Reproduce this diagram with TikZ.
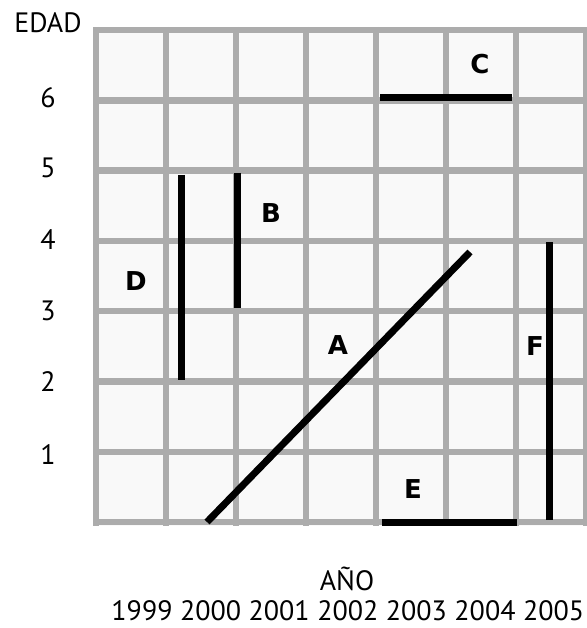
\documentclass[tikz,border=0pt]{standalone}
\usepackage{fontspec}
\setmainfont{PT Sans}
\newfontfamily\heavyfont{DejaVu Sans}
\begin{document}
\begin{tikzpicture}[x=1pt,y=-1pt,
  gridline/.style={draw=gray!65, line width=6.5pt},
  seg/.style={draw=black, line width=7pt},
  lbl/.style={font=\heavyfont\fontsize{26}{26}\selectfont\bfseries, inner sep=0pt},
  axl/.style={font=\fontsize{28}{28}\selectfont, inner sep=0pt}]
\useasboundingbox (0,0) rectangle (586,628);
\fill[gray!5] (93,27) rectangle (586,526);
\foreach \i in {0,...,7} \draw[gridline] (96+70*\i,27) -- (96+70*\i,526);
\foreach \j in {0,...,7} \draw[gridline] (93,30+70.3*\j) -- (589,30+70.3*\j);
% axis labels
\node[axl] (edad) at (48,23) {EDAD};
\node[axl] (y6) at (48,98) {6};
\node[axl] (y5) at (48,168) {5};
\node[axl] (y4) at (48,240) {4};
\node[axl] (y3) at (48,311) {3};
\node[axl] (y2) at (48,382) {2};
\node[axl] (y1) at (48,455) {1};
\node[axl] (ano) at (347,579) {AÑO};
\foreach \yr [count=\k from 0] in {1999,2000,2001,2002,2003,2004,2005}
  \node[axl] (yr\yr) at (142+68.6*\k,611) {\yr};
% segment letters
\node[lbl] (lc) at (480,64) {C};
\node[lbl] (lb) at (271,213) {B};
\node[lbl] (ld) at (136,281) {D};
\node[lbl] (la) at (338,345) {A};
\node[lbl] (lf) at (535,346) {F};
\node[lbl] (le) at (413,489) {E};
% segment end points
\coordinate (c1) at (380,98);  \coordinate (c2) at (512,98);
\coordinate (d1) at (181,175); \coordinate (d2) at (181,380);
\coordinate (b1) at (237,173); \coordinate (b2) at (237,308);
\coordinate (a1) at (207,522); \coordinate (a2) at (470,252);
\coordinate (f1) at (549,242); \coordinate (f2) at (549,520);
\coordinate (e1) at (382,522); \coordinate (e2) at (517,522);
\draw[seg] (c1) -- (c2);
\draw[seg] (d1) -- (d2);
\draw[seg] (b1) -- (b2);
\draw[seg] (a1) -- (a2);
\draw[seg] (f1) -- (f2);
\draw[seg] (e1) -- (e2);
\end{tikzpicture}
\end{document}
